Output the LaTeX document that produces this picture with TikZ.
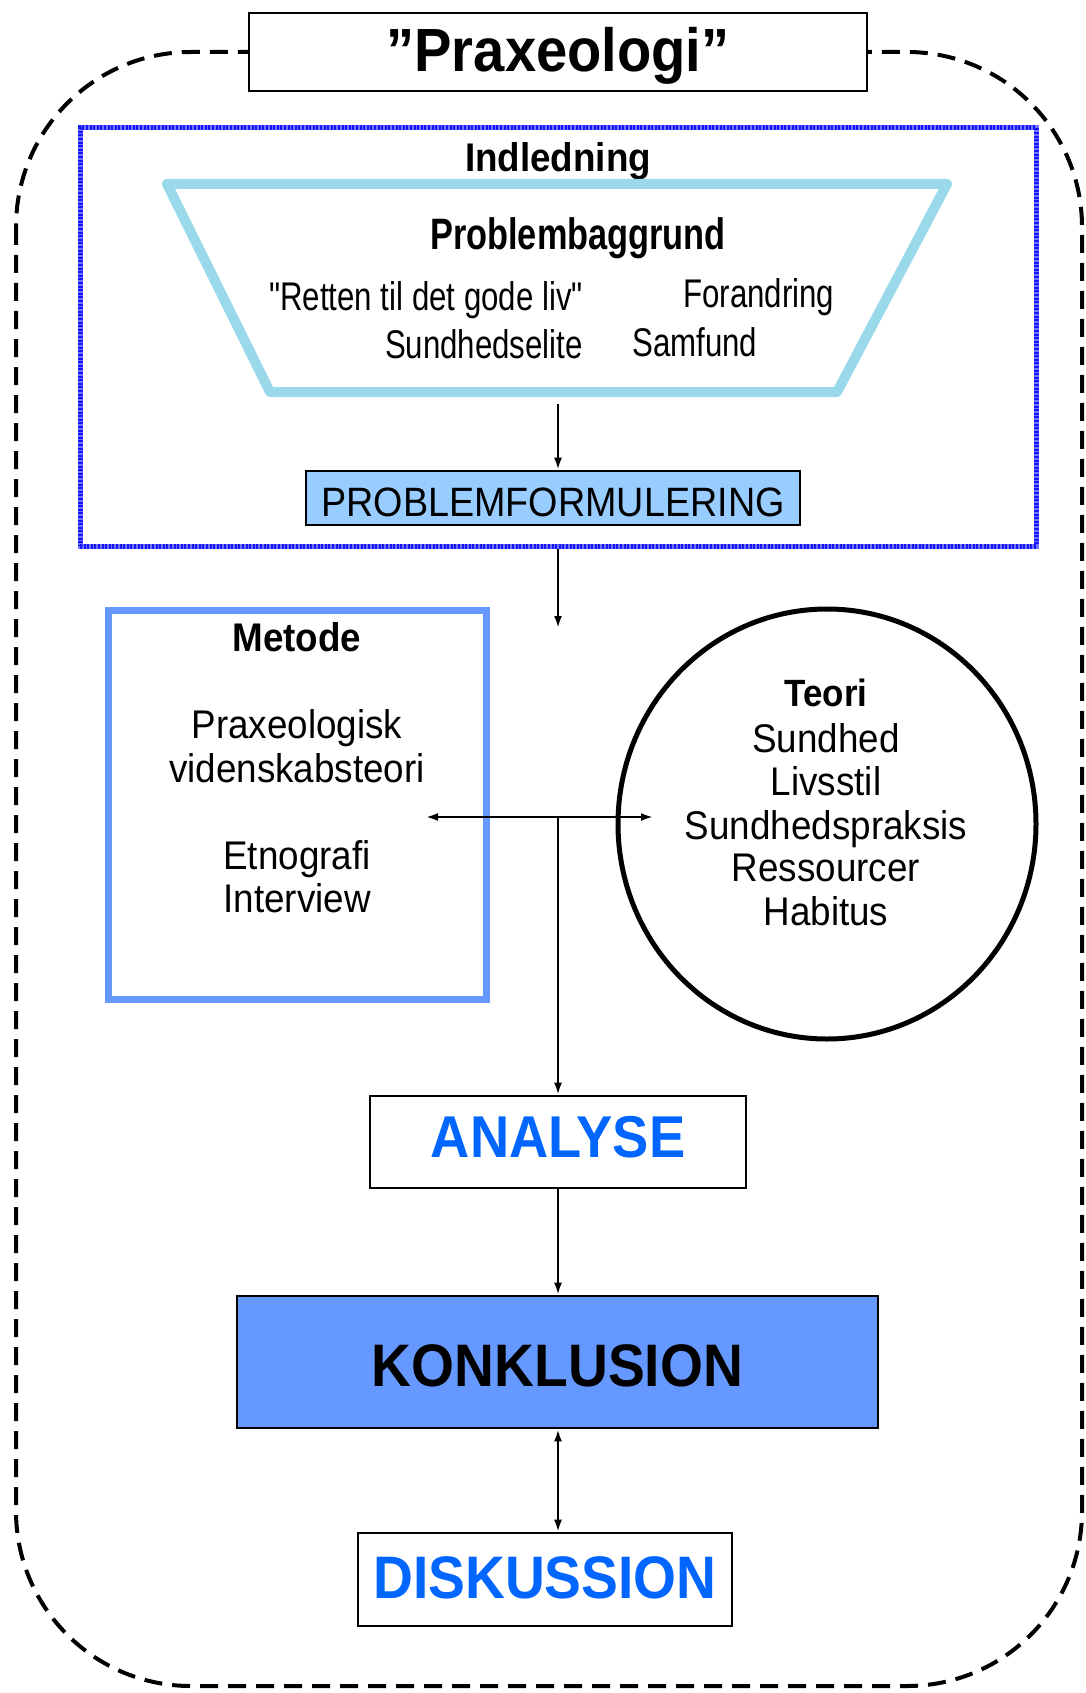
\documentclass[tikz,border=0pt]{standalone}
\usepackage{fontspec}
\setmainfont{Liberation Sans}
\newfontfamily\sfA[FakeStretch=0.92]{Liberation Sans}
\newfontfamily\sfN[FakeStretch=0.78]{Liberation Sans}
\usetikzlibrary{arrows.meta,shapes.geometric}
\definecolor{trapblue}{RGB}{153,217,234}
\definecolor{pfblue}{RGB}{153,204,255}
\definecolor{metblue}{RGB}{102,153,255}
\definecolor{txtblue}{RGB}{0,102,255}
\definecolor{dotblue}{RGB}{20,20,255}
\newcommand\fsz[1]{\fontsize{#1}{#1}\selectfont}
\begin{document}
\begin{tikzpicture}[x=1pt,y=-1pt,
  box/.style={draw=black, line width=2.6pt, inner sep=0pt, fill=white},
  txt/.style={anchor=base, inner sep=0pt},
  arr/.style={line width=2.2pt, -{Latex[length=12pt,width=8pt]}},
  arrboth/.style={line width=2.2pt, {Latex[length=12pt,width=8pt]}-{Latex[length=12pt,width=8pt]}}
]
\useasboundingbox (0,0) rectangle (1085,1693);
% dashed outline
\draw[line width=4pt, dash pattern=on 18pt off 10pt, rounded corners=175pt] (16,52) rectangle (1082,1686);
% title
\node[box, minimum width=618pt, minimum height=78pt] (title) at (558,52) {};
\node[txt, font=\sfA\bfseries\fsz{61}] (titletxt) at (558,72) {”Praxeologi”};
% Indledning box
\node[draw=dotblue, line width=5pt, dash pattern=on 2pt off 1.6pt,
      preaction={draw=blue!55, solid, line width=5pt},
      minimum width=956pt, minimum height=418pt, inner sep=0pt] (indl) at (558,337) {};
\node[txt, font=\sfA\bfseries\fsz{40}] (indltxt) at (558,172) {Indledning};
% trapezoid
\draw[trapblue, line width=10pt, line join=round] (167,184) -- (947,184) -- (837,392) -- (270,392) -- cycle;
\coordinate (trapb) at (558,404);
\node[txt, font=\sfN\bfseries\fsz{44}] (pbg) at (578,250) {Problembaggrund};
\node[anchor=base east, inner sep=0pt, font=\sfN\fsz{40}] (retten) at (583,310) {"Retten til det gode liv"};
\node[anchor=base west, inner sep=0pt, font=\sfN\fsz{40}] (forand) at (683,308) {Forandring};
\node[anchor=base east, inner sep=0pt, font=\sfN\fsz{40}] (sundel) at (583,358) {Sundhedselite};
\node[anchor=base west, inner sep=0pt, font=\sfN\fsz{40}] (samf) at (632,356) {Samfund};
% Problemformulering
\node[box, fill=pfblue, minimum width=494pt, minimum height=54pt] (pf) at (553,498) {};
\node[txt, font=\sfA\fsz{41}] (pftxt) at (553,516) {PROBLEMFORMULERING};
\draw[arr] (trapb) -- (trapb |- pf.north);
% arrow out of Indledning
\coordinate (a1) at (558,628);
\draw[arr] (indl.south) -- (a1);
% Metode box
\node[draw=metblue, line width=7pt, minimum width=378pt, minimum height=389pt, inner sep=0pt] (metode) at (297,804.5) {};
\node[txt, font=\sfA\bfseries\fsz{40}] at (297,651) {Metode};
\node[txt, font=\sfA\fsz{40}] at (297,738) {Praxeologisk};
\node[txt, font=\sfA\fsz{40}] at (297,782) {videnskabsteori};
\node[txt, font=\sfA\fsz{40}] at (297,869) {Etnografi};
\node[txt, font=\sfA\fsz{40}] at (297,912) {Interview};
% Teori ellipse
\node[ellipse, draw=black, line width=5pt, minimum width=418pt, minimum height=430pt, inner sep=0pt] (teori) at (827,824) {};
\node[txt, font=\sfA\bfseries\fsz{38}] at (826,706) {Teori};
\node[txt, font=\sfA\fsz{40}] at (826,752) {Sundhed};
\node[txt, font=\sfA\fsz{40}] at (826,795) {Livsstil};
\node[txt, font=\sfA\fsz{40}] at (826,839) {Sundhedspraksis};
\node[txt, font=\sfA\fsz{40}] at (826,881) {Ressourcer};
\node[txt, font=\sfA\fsz{40}] at (826,925) {Habitus};
% analyse, konklusion, diskussion
\node[box, minimum width=376pt, minimum height=92pt] (ana) at (558,1142) {};
\node[txt, font=\sfA\bfseries\fsz{59}, text=txtblue] at (558,1157) {ANALYSE};
\node[box, fill=metblue, minimum width=641pt, minimum height=132pt] (kon) at (557.5,1362) {};
\node[txt, font=\sfA\bfseries\fsz{60}] at (557.5,1386) {KONKLUSION};
\node[box, minimum width=374pt, minimum height=93pt] (dis) at (545,1579.5) {};
\node[txt, font=\sfA\bfseries\fsz{60}, text=txtblue] at (545,1598) {DISKUSSION};
% connectors
\coordinate (hl) at (426,817);
\coordinate (hr) at (653,817);
\coordinate (hj) at (558,817);
\draw[arrboth] (hl) -- (hr);
\draw[arr] (hj) -- (hj |- ana.north);
\draw[arr] (ana.south -| hj) -- (hj |- kon.north);
\draw[arrboth] (kon.south -| hj) -- (hj |- dis.north);
\end{tikzpicture}
\end{document}
